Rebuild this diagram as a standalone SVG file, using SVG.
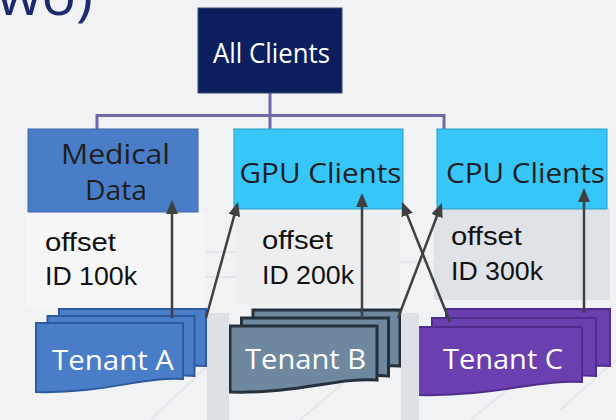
<svg xmlns="http://www.w3.org/2000/svg" width="616" height="420" viewBox="0 0 616 420">
<defs>
<style>
.lbl{font-family:"Open Sans","Noto Sans",sans-serif;text-anchor:middle}
.off{font-family:"Liberation Sans","Noto Sans",sans-serif;font-size:25px;fill:#111}
.conn{fill:none;stroke:#6b6aa5;stroke-width:3}
.arr{fill:none;stroke:#404040;stroke-width:2.5;marker-end:url(#ah)}
.bg{fill:none;stroke:#e4e6e9;stroke-width:2}
.bar{fill:#dde0e5}
.ta{fill:#4a7dc8;stroke:#2d5a9c;stroke-width:2}
.tb{fill:#6e889f;stroke:#24313d;stroke-width:3}
.tc{fill:#6a3fb0;stroke:#4f2d8c;stroke-width:2}
</style>
<marker id="ah" viewBox="0 0 14 12" refX="11" refY="6" markerWidth="14" markerHeight="12" markerUnits="userSpaceOnUse" orient="auto">
<path d="M0,0 L14,6 L0,12 Z" fill="#404040"/>
</marker>
</defs>
<rect width="616" height="420" fill="#f1f2f4"/>
<g id="background-lines">
<path class="bg" d="M205,252 H236 M205,277 H236 M400,262 H434"/>
<path class="bg" d="M150,420 L230,345 M300,420 L370,360 M470,420 L520,380 M560,410 L616,360"/>
</g>
<text x="93" y="15" font-family="Open Sans,Noto Sans,sans-serif" font-size="56" fill="#1a2a6c" text-anchor="end" textLength="96" lengthAdjust="spacingAndGlyphs">wo)</text>

<g id="connectors-tree">
<path class="conn" d="M270,93 V116 M97,115.5 H444 M97,114 V129 M444,114 V129 M270,115 V129"/>
</g>

<g id="all-clients">
<rect x="198" y="8" width="144" height="85" fill="#0b1f5e" stroke="#3a4a6a" stroke-width="1"/>
<text class="lbl" x="271.5" y="63" font-size="27" fill="#ffffff" textLength="117" lengthAdjust="spacingAndGlyphs">All Clients</text>
</g>

<g id="panel-a"><rect x="26" y="212" width="179" height="96" fill="#f6f6f6"/>
<text class="off" x="45" y="251" textLength="71" lengthAdjust="spacingAndGlyphs">offset</text>
<text class="off" x="45" y="285" textLength="92" lengthAdjust="spacingAndGlyphs">ID 100k</text></g>
<g id="panel-b"><rect x="236" y="209" width="165" height="96" fill="#eceeef"/>
<text class="off" x="262" y="249" textLength="71" lengthAdjust="spacingAndGlyphs">offset</text>
<text class="off" x="262" y="284" textLength="92" lengthAdjust="spacingAndGlyphs">ID 200k</text></g>
<g id="panel-c"><rect x="434" y="208" width="176" height="92" fill="#dfe2e7"/>
<text class="off" x="451" y="245" textLength="71" lengthAdjust="spacingAndGlyphs">offset</text>
<text class="off" x="451" y="280" textLength="92" lengthAdjust="spacingAndGlyphs">ID 300k</text></g>

<g id="medical-data">
<rect x="28" y="129" width="170" height="83" fill="#4a7dc8" stroke="#3d67a8" stroke-width="1"/>
<text class="lbl" x="115.5" y="164" font-size="27" fill="#1e1e1e" textLength="109" lengthAdjust="spacingAndGlyphs">Medical</text>
<text class="lbl" x="116" y="200" font-size="27" fill="#1e1e1e" textLength="62" lengthAdjust="spacingAndGlyphs">Data</text>
</g>
<g id="gpu-clients">
<rect x="234" y="129" width="169" height="80" fill="#36c6fa" stroke="#2b9bc4" stroke-width="1"/>
<text class="lbl" x="320.5" y="183" font-size="28" fill="#1e1e1e" textLength="162" lengthAdjust="spacingAndGlyphs">GPU Clients</text>
</g>
<g id="cpu-clients">
<rect x="437" y="129" width="170" height="80" fill="#36c6fa" stroke="#2b9bc4" stroke-width="1"/>
<text class="lbl" x="525.5" y="183" font-size="28" fill="#1e1e1e" textLength="159" lengthAdjust="spacingAndGlyphs">CPU Clients</text>
</g>

<g id="tenant-a">
<path class="ta" d="M59,309 H206 V366 C169,363 125,381 59,379 Z"/>
<path class="ta" d="M47.5,316 H194.5 V376 C157.5,373 113.5,388 47.5,386 Z"/>
<path class="ta" d="M36,323 H183 V379 C146,376 102,394 36,392 Z"/>
<text class="lbl" x="113" y="370" font-size="28" fill="#ffffff" textLength="122" lengthAdjust="spacingAndGlyphs">Tenant A</text>
</g>
<g id="tenant-b">
<path class="tb" d="M253,310 H400 V366 C363,363 319,380 253,378 Z"/>
<path class="tb" d="M241.5,318 H388.5 V376 C351.5,373 307.5,388 241.5,386 Z"/>
<path class="tb" d="M230,326 H377 V380 C340,377 296,394 230,392 Z"/>
<text class="lbl" x="305.5" y="369" font-size="28" fill="#ffffff" textLength="121" lengthAdjust="spacingAndGlyphs">Tenant B</text>
</g>
<g id="tenant-c">
<path class="tc" d="M446,309 H610 V366 C569,363 520,381 446,379 Z"/>
<path class="tc" d="M432,318 H596 V376 C555,373 506,388 432,386 Z"/>
<path class="tc" d="M418,327 H582 V382 C541,379 492,397 418,395 Z"/>
<text class="lbl" x="503" y="369" font-size="28" fill="#ffffff" textLength="120" lengthAdjust="spacingAndGlyphs">Tenant C</text>
</g>

<g id="separators">
<rect class="bar" x="207" y="313" width="22" height="107"/>
<rect class="bar" x="401" y="313" width="18" height="107"/>
</g>

<g id="connectors">
<line class="arr" x1="172" y1="318" x2="172" y2="203"/>
<line class="arr" x1="206" y1="318" x2="237.2" y2="204.9"/>
<line class="arr" x1="362" y1="318" x2="362" y2="196"/>
<line class="arr" x1="398" y1="318" x2="440.9" y2="205.8"/>
<line class="arr" x1="450" y1="322" x2="403.1" y2="204.8"/>
<line class="arr" x1="584" y1="313" x2="584" y2="191"/>
</g>
</svg>
